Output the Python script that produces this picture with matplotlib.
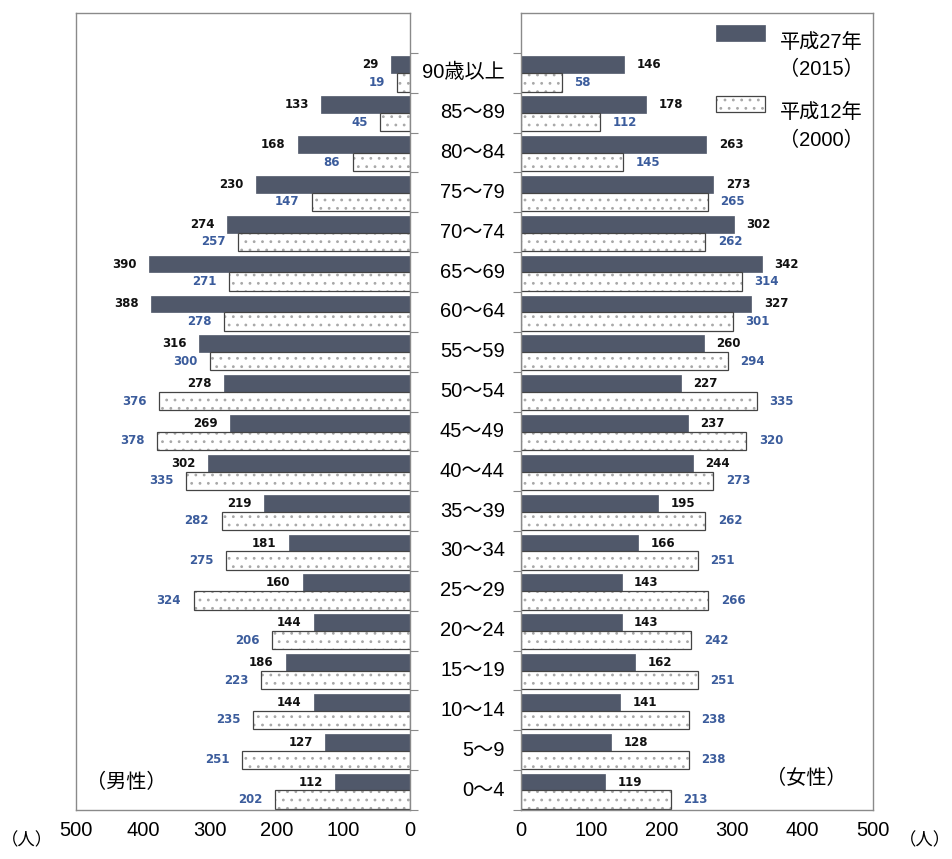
import matplotlib
matplotlib.use("Agg")
import matplotlib.pyplot as plt
import matplotlib.transforms as mtransforms
from matplotlib.patches import Rectangle
import numpy as np

plt.rcParams['font.family'] = ['Liberation Sans', 'Noto Sans CJK JP', 'DejaVu Sans']
plt.rcParams['hatch.linewidth'] = 0.8

# age groups, bottom to top
ages = ["0～4", "5～9", "10～14", "15～19", "20～24", "25～29", "30～34",
        "35～39", "40～44", "45～49", "50～54", "55～59", "60～64", "65～69",
        "70～74", "75～79", "80～84", "85～89", "90歳以上"]

# male / female counts (people), listed bottom to top
male_2015 = [112, 127, 144, 186, 144, 160, 181, 219, 302, 269, 278, 316,
             388, 390, 274, 230, 168, 133, 29]
male_2000 = [202, 251, 235, 223, 206, 324, 275, 282, 335, 378, 376, 300,
             278, 271, 257, 147, 86, 45, 19]
female_2015 = [119, 128, 141, 162, 143, 143, 166, 195, 244, 237, 227, 260,
               327, 342, 302, 273, 263, 178, 146]
female_2000 = [213, 238, 238, 251, 242, 266, 251, 262, 273, 320, 335, 294,
               301, 314, 262, 265, 145, 112, 58]

DARK = '#50586a'
BLUE = '#3b5c9c'
EDGE = '#444444'
DOTS = '#a8a8a8'
SPINE = '#8a8a8a'

W, H = 952, 859
fig = plt.figure(figsize=(W / 100, H / 100), dpi=100)
axL = fig.add_axes([76 / W, 1 - 810 / H, 334 / W, 797 / H])
axR = fig.add_axes([521 / W, 1 - 810 / H, 352 / W, 797 / H])

y = np.arange(len(ages))
h_dark, h_white = 0.42, 0.46
y_dark = y + 0.20
y_white = y - 0.24


def draw_side(ax, v15, v00, sign):
    ax.barh(y_dark, v15, height=h_dark, color=DARK, edgecolor=DARK, linewidth=0.5)
    ax.barh(y_white, v00, height=h_white, color='white', edgecolor=DOTS,
            hatch='..', linewidth=0)
    ax.barh(y_white, v00, height=h_white, fill=False, edgecolor=EDGE, linewidth=0.9)
    ha = 'left' if sign > 0 else 'right'
    for yy, v in zip(y_dark, v15):
        ax.annotate(str(v), (v, yy), xytext=(9 * sign, 0), textcoords='offset points',
                    ha=ha, va='center', fontsize=8.5, fontweight='bold',
                    family='DejaVu Sans', color='#111111')
    for yy, v in zip(y_white, v00):
        ax.annotate(str(v), (v, yy), xytext=(9 * sign, 0), textcoords='offset points',
                    ha=ha, va='center', fontsize=8.5, fontweight='bold',
                    family='DejaVu Sans', color=BLUE)

    ax.set_ylim(-0.5, len(ages) + 0.5)
    ax.set_xticks([0, 100, 200, 300, 400, 500])
    ax.tick_params(axis='x', length=0, pad=8, labelsize=14.5)
    ax.set_yticks(np.arange(-0.5, len(ages), 1.0))
    ax.set_yticklabels([])
    for s in ax.spines.values():
        s.set_color(SPINE)
        s.set_linewidth(1.0)


draw_side(axL, male_2015, male_2000, -1)
axL.set_xlim(500, 0)
axL.tick_params(axis='y', left=False, right=True, direction='out', length=6,
                color=SPINE)

draw_side(axR, female_2015, female_2000, 1)
axR.set_xlim(0, 500)
axR.tick_params(axis='y', left=True, right=False, direction='out', length=6,
                color=SPINE)

# age group labels between the two panels
trans = mtransforms.blended_transform_factory(fig.transFigure, axR.transData)
for yy, a in zip(y, ages):
    fig.text(505 / W, yy, a, transform=trans, ha='right', va='center', fontsize=14.5)

# legend
for ypix, lab1, lab2, is_dark in [(33, "平成27年", "（2015）", True),
                                  (104, "平成12年", "（2000）", False)]:
    x0, w, hh = 716 / W, 49 / W, 16 / H
    if is_dark:
        fig.patches.append(Rectangle((x0, 1 - (ypix + 8) / H), w, hh, transform=fig.transFigure,
                                     facecolor=DARK, edgecolor=DARK, linewidth=0.5))
    else:
        fig.patches.append(Rectangle((x0, 1 - (ypix + 8) / H), w, hh, transform=fig.transFigure,
                                     facecolor='white', edgecolor=DOTS, hatch='..',
                                     linewidth=0))
        fig.patches.append(Rectangle((x0, 1 - (ypix + 8) / H), w, hh, transform=fig.transFigure,
                                     fill=False, edgecolor=EDGE, linewidth=0.9))
    fig.text(821 / W, 1 - (ypix + 9) / H, lab1, ha='center', va='center', fontsize=14.5)
    fig.text(821 / W, 1 - (ypix + 36) / H, lab2, ha='center', va='center', fontsize=14.5)

fig.text(126 / W, 1 - 782 / H, "（男性）", ha='center', va='center', fontsize=14.5)
fig.text(806 / W, 1 - 778 / H, "（女性）", ha='center', va='center', fontsize=14.5)
fig.text(1 / W, 1 - 840 / H, "（人）", ha='left', va='center', fontsize=12.5)
fig.text(951 / W, 1 - 840 / H, "（人）", ha='right', va='center', fontsize=12.5)

fig.savefig("out.png", dpi=100)
